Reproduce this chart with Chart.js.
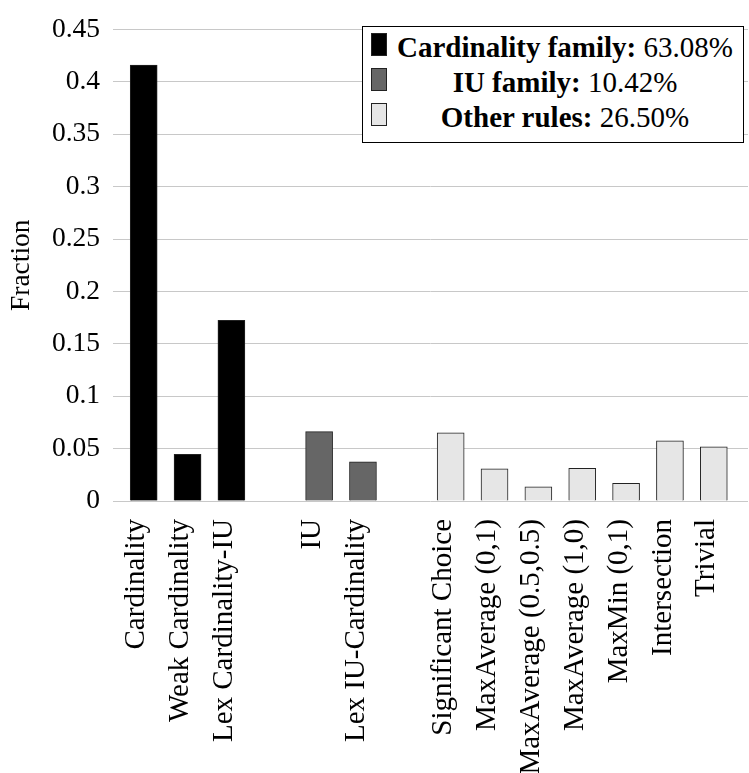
<!DOCTYPE html>
<html>
<head>
<meta charset="utf-8">
<script src="https://cdn.jsdelivr.net/npm/chart.js@4/dist/chart.umd.min.js"></script>
<style>
  body { margin: 0; background: #fff; }
  #wrap { position: relative; width: 749px; height: 773px; }
  #legend {
    position: absolute; left: 362px; top: 26px; width: 380px; height: 115px;
    border: 1.5px solid #000; background: #fff;
    font-family: "Liberation Serif", "DejaVu Serif", serif; font-size: 29px; color: #000;
  }
  #legend .row { position: absolute; left: 0; width: 100%; height: 25px; }
  #legend .sw { position: absolute; left: 8px; top: 0; width: 16px; height: 23px; border: 1px solid #222; box-sizing: border-box; }
  #legend .txt { position: absolute; left: 24px; right: 0; top: -1px; text-align: center; line-height: 30px; white-space: nowrap; }
</style>
</head>
<body>
<div id="wrap">
  <canvas id="myChart" width="749" height="773"></canvas>
  <div id="legend"></div>
</div>
<script>
// categories, '' = empty slot between the families
var categories = ['Cardinality', 'Weak Cardinality', 'Lex Cardinality-IU', '',
  'IU', 'Lex IU-Cardinality', '',
  'Significant Choice', 'MaxAverage (0,1)', 'MaxAverage (0.5,0.5)', 'MaxAverage (1,0)',
  'MaxMin (0,1)', 'Intersection', 'Trivial']
var fractions = [0.416, 0.0446, 0.1725, null,
  0.0662, 0.0374, null,
  0.065, 0.0307, 0.0135, 0.0312, 0.0169, 0.0574, 0.0518]
var familyOf = [0, 0, 0, null, 1, 1, null, 2, 2, 2, 2, 2, 2, 2]

var families = ['Cardinality family', 'IU family', 'Other rules']
var familyShares = ['63.08%', '10.42%', '26.50%']
var familyColors = ['#000000', '#666666', '#e6e6e6']

var yTicks = [0, 0.05, 0.1, 0.15, 0.2, 0.25, 0.3, 0.35, 0.4, 0.45]

var serif = '"Liberation Serif", "DejaVu Serif", serif'

var datasets = families.map(function (name, f) {
  var pts = []
  categories.forEach(function (c, i) {
    if (familyOf[i] === f) pts.push({ x: i, y: fractions[i] })
  })
  return {
    label: name,
    data: pts,
    backgroundColor: familyColors[f],
    borderColor: '#222',
    borderWidth: 1,
    barThickness: 27,
    grouped: false
  }
})

// legend as html, so the bold name and plain share can mix
var legendTop = [6, 41, 76]
var legendHtml = ''
families.forEach(function (name, f) {
  legendHtml += '<div class="row" style="top:' + legendTop[f] + 'px">' +
    '<div class="sw" style="background:' + familyColors[f] + '"></div>' +
    '<div class="txt"><b>' + name + ':</b> ' + familyShares[f] + '</div></div>'
})
document.getElementById('legend').innerHTML = legendHtml

var ctx = document.getElementById('myChart').getContext('2d')
var chart = new Chart(ctx, {
  type: 'bar',
  data: { datasets: datasets },
  options: {
    responsive: false,
    animation: false,
    layout: { padding: { top: 16, right: 1 } },
    plugins: { legend: { display: false }, tooltip: { enabled: false } },
    scales: {
      x: {
        type: 'linear',
        min: -0.7,
        max: 13.78,
        offset: false,
        grid: { display: false, offset: false },
        border: { display: false },
        afterBuildTicks: function (scale) {
          scale.ticks = categories.map(function (c, i) { return { value: i } })
        },
        afterFit: function (scale) {
          scale.height = 272
          // labels sit inside the slots, no extra side room needed
          scale.paddingLeft = 0
          scale.paddingRight = 0
        },
        ticks: {
          autoSkip: false,
          minRotation: 90,
          maxRotation: 90,
          padding: 10,
          labelOffset: -7,
          color: '#000',
          font: { family: serif, size: 29 },
          callback: function (v) { return categories[v] }
        }
      },
      y: {
        min: 0,
        max: 0.45,
        afterBuildTicks: function (scale) {
          scale.ticks = yTicks.map(function (v) { return { value: v } })
        },
        afterFit: function (scale) { scale.width = 113 },
        grid: { color: '#c8c8c8', lineWidth: 1, drawTicks: false },
        border: { display: false },
        title: {
          display: true,
          text: 'Fraction',
          color: '#000',
          padding: { top: 5, bottom: 0 },
          font: { family: serif, size: 27.5 }
        },
        ticks: {
          padding: 13,
          color: '#000',
          font: { family: serif, size: 27.5 },
          callback: function (v) { return String(+v.toFixed(2)) }
        }
      }
    }
  }
})
</script>
</body>
</html>
